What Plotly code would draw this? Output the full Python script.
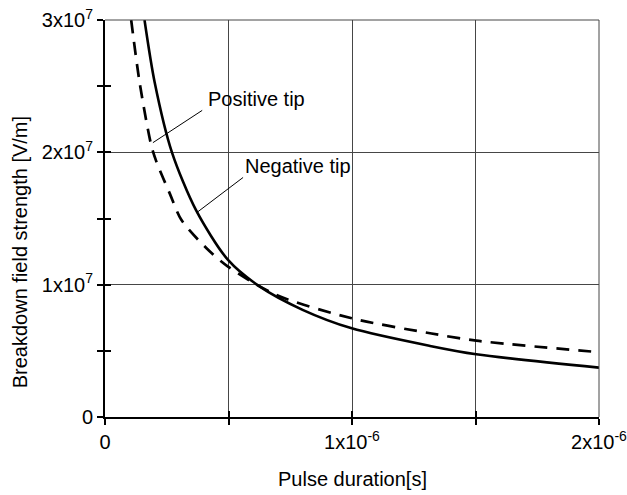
import plotly.graph_objects as go

# Pulse duration (s) and breakdown field strength (V/m) for both tip polarities
neg_t = [0.160e-6, 0.201e-6, 0.271e-6, 0.368e-6, 0.498e-6, 0.627e-6, 0.800e-6,
         0.999e-6, 1.316e-6, 1.503e-6, 2.000e-6]
neg_E = [3.00e7, 2.53e7, 2.00e7, 1.565e7, 1.187e7, 0.985e7, 0.81e7,
         0.670e7, 0.537e7, 0.474e7, 0.373e7]

pos_t = [0.106e-6, 0.140e-6, 0.187e-6, 0.208e-6, 0.262e-6, 0.309e-6, 0.411e-6,
         0.498e-6, 0.694e-6, 0.999e-6, 1.316e-6, 1.503e-6, 2.000e-6]
pos_E = [3.00e7, 2.53e7, 2.055e7, 1.93e7, 1.69e7, 1.49e7, 1.275e7,
         1.136e7, 0.922e7, 0.746e7, 0.633e7, 0.577e7, 0.49e7]

x_tickvals = [0, 0.5e-6, 1e-6, 1.5e-6, 2e-6]
x_ticktext = ["0", "", "1x10<sup>-6</sup>", "", "2x10<sup>-6</sup>"]
y_tickvals = [0, 1e7, 2e7, 3e7]
y_ticktext = ["0", "1x10<sup>7</sup>", "2x10<sup>7</sup>", "3x10<sup>7</sup>"]

X_RANGE = [0, 2e-6]
Y_RANGE = [0, 3e7]
FONT = "Liberation Sans, Arial, Helvetica, sans-serif"
FS = 20

fig = go.Figure()
fig.add_trace(go.Scatter(x=pos_t, y=pos_E, mode="lines", name="Positive tip",
                         line=dict(color="black", width=2.7, dash="13px,9px",
                                   shape="spline", smoothing=0.8)))
fig.add_trace(go.Scatter(x=neg_t, y=neg_E, mode="lines", name="Negative tip",
                         line=dict(color="black", width=2.6,
                                   shape="spline", smoothing=0.8)))
# carrier trace so the inward-tick overlay axes are drawn
fig.add_trace(go.Scatter(x=[None], y=[None], xaxis="x2", yaxis="y2",
                         showlegend=False, hoverinfo="skip"))

grid_col = "rgb(70,70,70)"
fig.update_layout(
    width=627, height=495,
    margin=dict(l=105, r=28, t=20, b=78),
    paper_bgcolor="white", plot_bgcolor="white",
    showlegend=False,
    font=dict(family=FONT, size=FS, color="black"),
    xaxis=dict(range=X_RANGE, tickvals=x_tickvals, ticktext=x_ticktext,
               showgrid=True, gridcolor=grid_col, gridwidth=1,
               zeroline=False, showline=True, linecolor="black", linewidth=2,
               ticks="outside", ticklen=6, tickwidth=2, tickcolor="black",
               tickfont=dict(size=FS), ticklabeloverflow="allow",
               automargin=False),
    yaxis=dict(range=Y_RANGE, tickvals=y_tickvals, ticktext=y_ticktext,
               showgrid=True, gridcolor=grid_col, gridwidth=1,
               zeroline=False, showline=True, linecolor="black", linewidth=2,
               ticks="outside", ticklen=6, tickwidth=2, tickcolor="black",
               tickfont=dict(size=FS), ticklabeloverflow="allow",
               automargin=False,
               minor=dict(dtick=0.5e7, ticks="outside", ticklen=6, tickwidth=2,
                          tickcolor="black", showgrid=False)),
    xaxis2=dict(overlaying="x", range=X_RANGE, tickvals=x_tickvals,
                showticklabels=False, showgrid=False, zeroline=False,
                showline=False, ticks="inside", ticklen=6, tickwidth=2,
                tickcolor="black", side="bottom", automargin=False),
    yaxis2=dict(overlaying="y", range=Y_RANGE,
                tickvals=[0, 0.5e7, 1e7, 1.5e7, 2e7, 2.5e7, 3e7],
                showticklabels=False, showgrid=False, zeroline=False,
                showline=False, ticks="inside", ticklen=6, tickwidth=2,
                tickcolor="black", side="left", automargin=False),
)

# thin frame lines along the top and right edges of the plot area
fig.add_shape(type="line", xref="paper", yref="paper", x0=0, x1=1, y0=1, y1=1,
              line=dict(color=grid_col, width=1))
fig.add_shape(type="line", xref="paper", yref="paper", x0=1, x1=1, y0=0, y1=1,
              line=dict(color=grid_col, width=1))

# axis titles
fig.add_annotation(text="Pulse duration[s]", xref="paper", yref="paper",
                   x=0.5, y=-0.156, xanchor="center", yanchor="middle",
                   showarrow=False, font=dict(size=FS))
fig.add_annotation(text="Breakdown field strength [V/m]", xref="paper", yref="paper",
                   x=-0.172, y=0.415, xanchor="center", yanchor="middle",
                   textangle=-90, showarrow=False, font=dict(size=FS))

# curve labels with leader lines
fig.add_shape(type="line", x0=0.194e-6, y0=2.073e7, x1=0.3935e-6, y1=2.317e7,
              line=dict(color="black", width=1))
fig.add_annotation(text="Positive tip", x=0.4105e-6, y=2.40e7,
                   xanchor="left", yanchor="middle", showarrow=False,
                   font=dict(size=FS))
fig.add_shape(type="line", x0=0.371e-6, y0=1.544e7, x1=0.559e-6, y1=1.810e7,
              line=dict(color="black", width=1))
fig.add_annotation(text="Negative tip", x=0.560e-6, y=1.893e7,
                   xanchor="left", yanchor="middle", showarrow=False,
                   font=dict(size=FS))

fig.write_html("out.html")
